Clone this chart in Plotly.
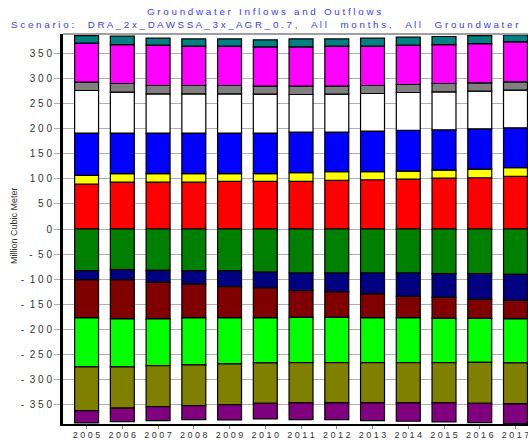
import plotly.graph_objects as go

years = [2005, 2006, 2007, 2008, 2009, 2010, 2011, 2012, 2013, 2014, 2015, 2016, 2017]
year_labels = [str(y) for y in years]

# Inflows (positive, stacked bottom to top)
red     = [89.5, 93.4, 93.4, 93.4, 94.7, 94.7, 94.7, 96.6, 98.0, 99.4, 101.4, 102.0, 104.6]
yellow  = [17.1, 16.6, 16.6, 16.6, 15.3, 15.3, 17.2, 17.3, 15.9, 15.9, 15.9, 17.3, 17.3]
blue    = [84.3, 80.9, 80.9, 80.9, 80.9, 80.9, 80.9, 78.9, 80.9, 80.8, 80.1, 80.1, 79.5]
white   = [84.7, 81.5, 78.1, 78.1, 78.1, 77.4, 74.8, 75.5, 74.8, 75.5, 75.6, 75.0, 74.9]
gray    = [16.6, 17.1, 16.5, 16.5, 16.5, 15.9, 16.6, 15.9, 15.9, 15.9, 16.5, 16.5, 16.5]
magenta = [77.6, 77.5, 80.3, 78.3, 78.3, 78.2, 78.2, 79.6, 78.3, 78.3, 77.5, 78.1, 79.6]
teal    = [15.1, 16.6, 13.9, 14.5, 14.5, 13.9, 15.9, 14.5, 15.9, 15.9, 16.0, 15.9, 13.9]

# Outflows (negative, stacked top to bottom)
green  = [-83.0, -80.9, -82.2, -83.0, -83.0, -85.6, -87.5, -87.5, -87.5, -87.5, -88.9, -88.9, -90.2]
navy   = [-18.4, -20.5, -23.9, -26.5, -31.7, -31.8, -35.2, -37.7, -41.7, -46.5, -47.1, -51.1, -51.8]
maroon = [-75.6, -77.6, -72.9, -67.5, -62.3, -59.6, -53.0, -50.5, -47.8, -43.0, -41.7, -37.7, -37.0]
lime   = [-97.4, -95.4, -92.8, -93.5, -91.4, -89.4, -90.1, -90.1, -88.8, -88.8, -88.1, -87.5, -87.4]
olive  = [-86.8, -82.2, -81.5, -80.8, -80.9, -80.3, -80.2, -80.2, -80.2, -80.2, -80.2, -81.5, -81.5]
purple = [-24.6, -26.5, -27.8, -27.8, -30.5, -31.1, -33.1, -33.1, -35.1, -36.5, -37.8, -38.4, -39.2]

ytick_vals = [-350, -300, -250, -200, -150, -100, -50, 0, 50, 100, 150, 200, 250, 300, 350]

title1 = "Groundwater Inflows and Outflows"
title2 = "Scenario: DRA_2x_DAWSSA_3x_AGR_0.7, All months, All Groundwater"
ytitle = "Million Cubic Meter"


def spaced(s, gap=3):
    words = s.split(" ")
    return ("\u00a0" * gap).join(" ".join(list(w)) for w in words)


series = [
    ("red", red, "#ff0000"), ("yellow", yellow, "#ffff00"), ("blue", blue, "#0000ff"),
    ("white", white, "#ffffff"), ("gray", gray, "#808080"), ("magenta", magenta, "#ff00ff"),
    ("teal", teal, "#008080"),
    ("green", green, "#008000"), ("navy", navy, "#000080"), ("maroon", maroon, "#800000"),
    ("lime", lime, "#00ff00"), ("olive", olive, "#808000"), ("purple", purple, "#800080"),
]

W, H = 528, 441
ML, MR, MT, MB = 63, 0, 34, 17

fig = go.Figure()
for name, vals, col in series:
    fig.add_trace(go.Bar(
        x=years, y=vals, name=name, width=0.67,
        marker=dict(color=col, line=dict(color="#000000", width=1.2)),
        showlegend=False, hoverinfo="skip",
    ))

fig.update_layout(
    barmode="relative",
    width=W, height=H,
    margin=dict(l=ML, r=MR, t=MT, b=MB, autoexpand=False),
    paper_bgcolor="white", plot_bgcolor="white",
    font=dict(family="Liberation Sans, Arial, sans-serif", color="#333333"),
)

plot_h = H - MT - MB
plot_w = W - ML - MR


def py(pix):
    return (H - MB - pix) / plot_h


def px(pix):
    return (pix - ML) / plot_w


fig.add_annotation(text=spaced(title1, 3), x=px(264), y=py(12), xref="paper", yref="paper",
                   showarrow=False, xanchor="center", yanchor="middle",
                   font=dict(size=9.8, color="#3c3cf0"))
fig.add_annotation(text=spaced(title2, 5), x=px(265), y=py(24), xref="paper", yref="paper",
                   showarrow=False, xanchor="center", yanchor="middle",
                   font=dict(size=9.8, color="#3c3cf0"))
fig.add_annotation(text=ytitle, x=px(14), y=py(226), xref="paper", yref="paper",
                   showarrow=False, xanchor="center", yanchor="middle", textangle=-90,
                   font=dict(size=9, color="#333333"))

fig.update_xaxes(
    range=[2004.34, 2017.35],
    tickvals=years, ticktext=[spaced(t) for t in year_labels],
    tickfont=dict(size=9, color="#333333"), tickangle=0,
    ticks="outside", ticklen=3, tickcolor="#888888",
    ticklabeloverflow="allow", ticklabelstandoff=-2,
    showline=True, linecolor="#000000", linewidth=2,
    showgrid=False, zeroline=False, automargin=False,
)
fig.update_yaxes(
    range=[-388, 388],
    tickvals=ytick_vals, ticktext=[spaced(str(v)).replace("-", "- ") for v in ytick_vals],
    tickfont=dict(size=10, color="#333333"),
    ticks="outside", ticklen=6, tickcolor="#b0b0b0",
    showline=True, linecolor="#000000", linewidth=3,
    showgrid=True, gridcolor="#b0b0b0", gridwidth=1,
    zeroline=False, automargin=False,
)
fig.add_shape(type="line", xref="paper", yref="paper", x0=0, x1=1, y0=1, y1=1,
              line=dict(color="#a0a0a0", width=2))

fig.write_html("out.html", config={"displayModeBar": False},
               post_script="document.body.style.margin='0';")
